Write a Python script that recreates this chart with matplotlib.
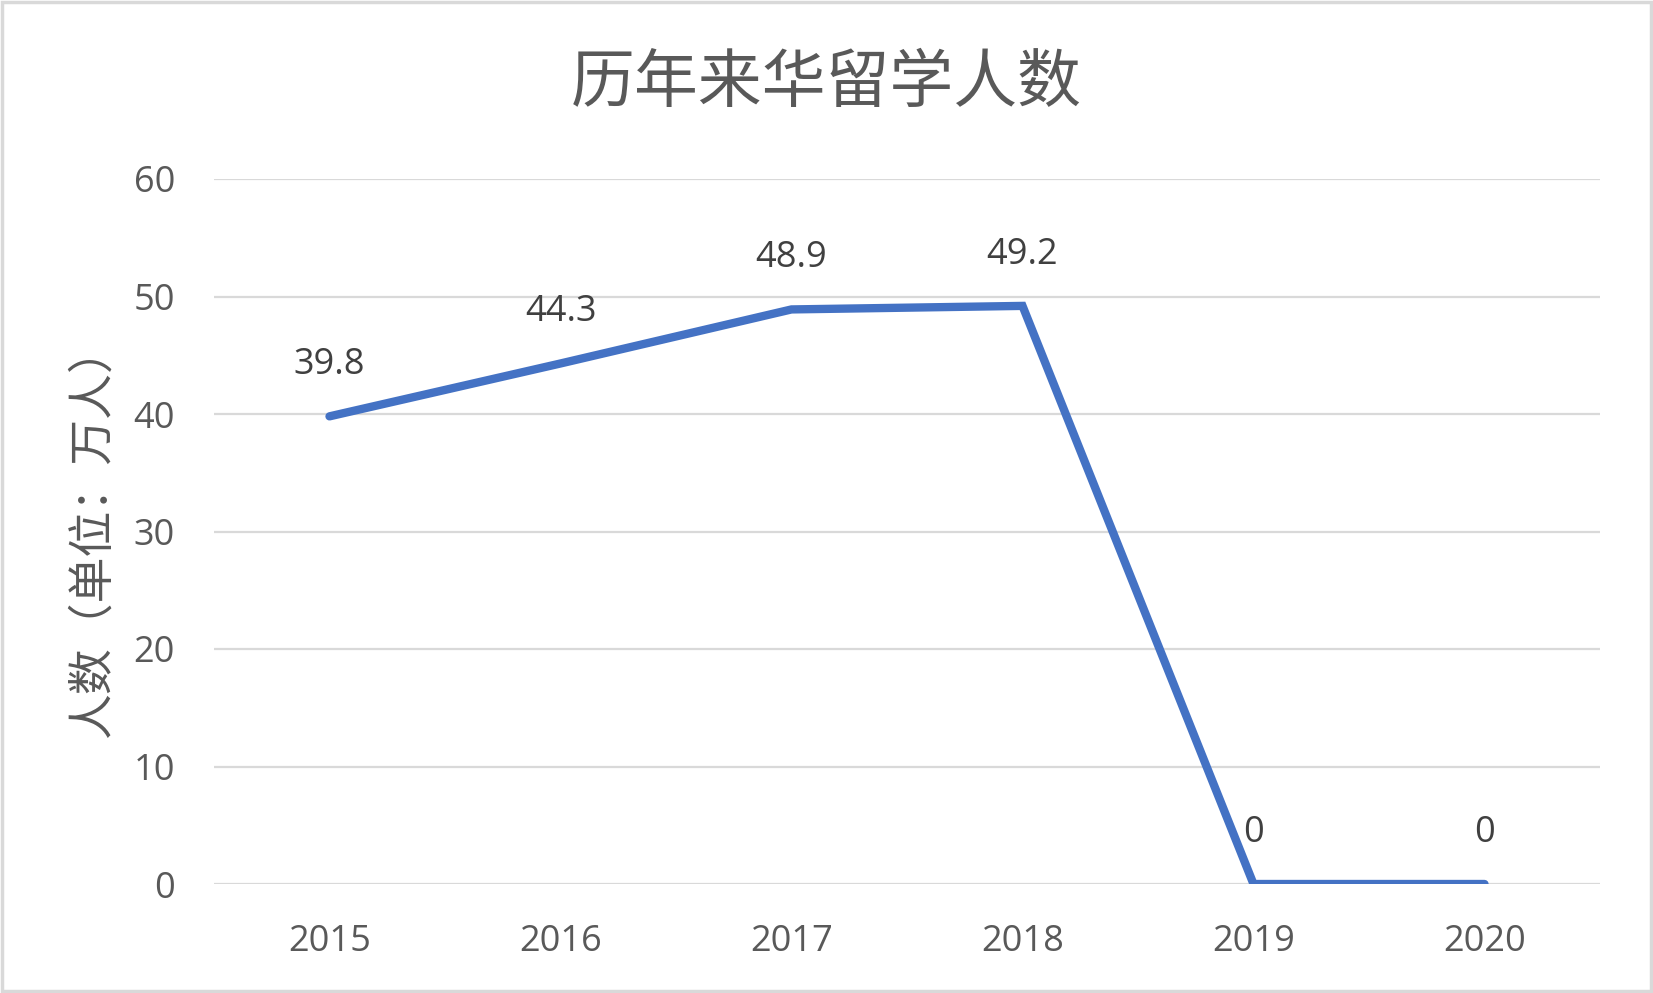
import matplotlib
matplotlib.use("Agg")
import matplotlib.pyplot as plt
from matplotlib.patches import Rectangle

years = ["2015", "2016", "2017", "2018", "2019", "2020"]
values = [39.8, 44.3, 48.9, 49.2, 0, 0]
yticks = [0, 10, 20, 30, 40, 50, 60]
title = "历年来华留学人数"
ylabel = "人数（单位：万人）"

plt.rcParams['font.family'] = ['Open Sans', 'Noto Sans CJK SC', 'DejaVu Sans']

fig = plt.figure(figsize=(16.53, 9.93), dpi=100)
ax = fig.add_axes([214/1653, 1-884/993, (1600-214)/1653, (884-179)/993])

x = list(range(len(years)))
ax.plot(x, values, color="#4472C4", lw=6, solid_capstyle="round", solid_joinstyle="miter", zorder=3)
for xi, v in zip(x, values):
    ax.annotate(f"{v:g}", (xi, v), xytext=(0, 37), textcoords="offset points",
                ha="center", va="center", fontsize=26, color="#404040")

ax.set_xlim(-0.5, len(years) - 0.5)
ax.set_ylim(0, 60)
ax.set_yticks(yticks)
ax.set_xticks(x)
ax.set_xticklabels(years)
ax.grid(axis="y", color="#D9D9D9", lw=1.6)
ax.set_axisbelow(True)
for s in ax.spines.values():
    s.set_visible(False)
ax.tick_params(axis="both", length=0, labelsize=26, labelcolor="#595959")
ax.tick_params(axis="x", pad=28.5)
ax.tick_params(axis="y", pad=28)

ax.set_ylabel(ylabel, family=['Noto Sans CJK SC', 'DejaVu Sans'], fontsize=33, color="#595959", labelpad=12)
fig.text(826/1653, 1-84/993, title, family=['Noto Sans CJK SC', 'DejaVu Sans'], fontsize=46,
         color="#595959", ha="center", va="center")

fig.patches.append(Rectangle((0.0015, 0.0025), 0.997, 0.995, transform=fig.transFigure,
                             fill=False, edgecolor="#D9D9D9", lw=2.5))

fig.savefig("out.png", dpi=100, facecolor="white")
